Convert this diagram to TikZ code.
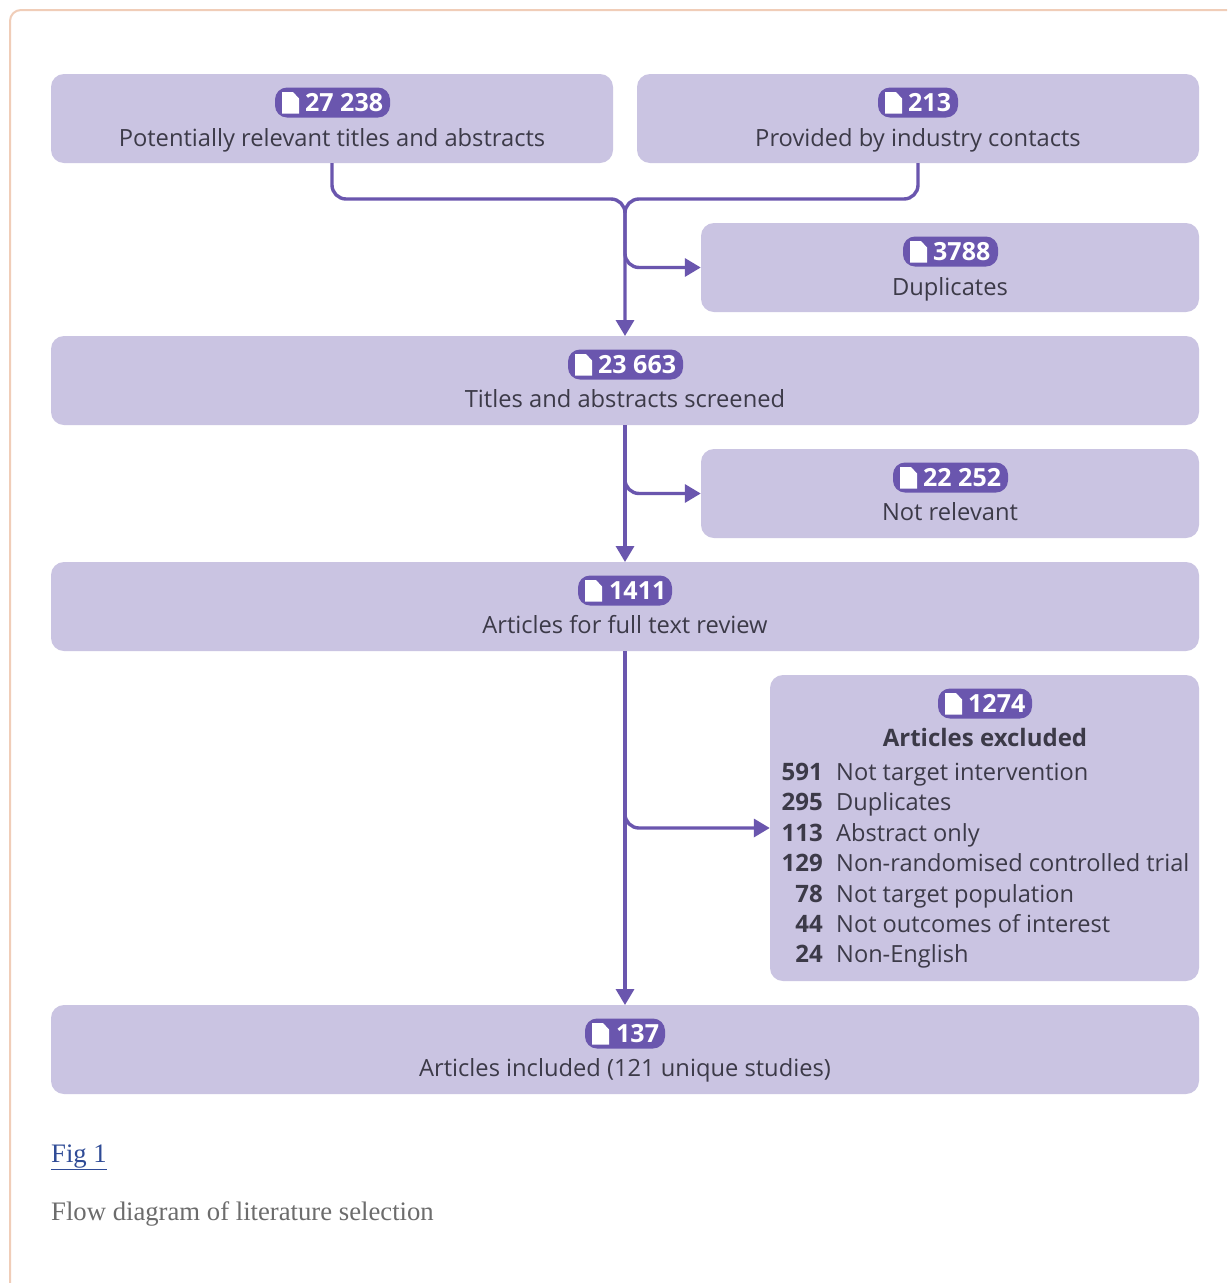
\documentclass[tikz,border=0pt]{standalone}
\usepackage{fontspec}
\setmainfont{Open Sans}
\newfontfamily\capfont{Liberation Serif}
\usetikzlibrary{arrows.meta}
\definecolor{boxfill}{HTML}{CAC4E2}
\definecolor{flowpurple}{HTML}{6A56AE}
\definecolor{inktext}{HTML}{3C3A48}
\definecolor{framecol}{HTML}{F0CDB8}
\definecolor{linkblue}{HTML}{2F4B96}
\definecolor{capgrey}{HTML}{6C6C6C}
\tikzset{
  x=1pt,y=-1pt,
  flowbox/.style={fill=boxfill,rounded corners=13pt,inner sep=0pt},
  pillbg/.style={fill=flowpurple,rounded corners=12pt,inner sep=0pt,minimum height=30pt},
  pillnum/.style={text=white,anchor=base west,inner sep=0pt,font=\fontsize{25}{29}\selectfont\bfseries},
  body/.style={text=inktext,anchor=base,inner sep=0pt,font=\fontsize{23.7}{28}\selectfont},
  rowlab/.style={text=inktext,anchor=base west,inner sep=0pt,font=\fontsize{23.6}{28}\selectfont},
  rownum/.style={text=inktext,anchor=base east,inner sep=0pt,font=\fontsize{24}{28}\selectfont\bfseries},
  flow/.style={draw=flowpurple,line width=3.4pt,rounded corners=14pt},
  flowtip/.style={-{Triangle[length=16pt,width=18pt]}},
}
% name, x0, y0, x1, y1
\newcommand\flowrect[5]{\node[flowbox,minimum width={(#4-#2)*1pt},minimum height={(#5-#3)*1pt}] (#1) at ({(#2+#4)/2},{(#3+#5)/2}) {};}
% name, x0, ytop, x1, number text x, number
\newcommand\flowpill[6]{%
  \node[pillbg,minimum width={(#4-#2)*1pt}] (#1) at ({(#2+#4)/2},{#3+14.5}) {};
  \fill[white] ({#2+7},{#3+4}) -- ({#2+18},{#3+4}) -- ({#2+24},{#3+10.5}) -- ({#2+24},{#3+25.5}) -- ({#2+7},{#3+25.5}) -- cycle;
  \node[pillnum] (#1n) at (#5,{#3+23.5}) {#6};}
\begin{document}
\begin{tikzpicture}
\useasboundingbox (0,0) rectangle (1227,1283);
\fill[white] (0,0) rectangle (1227,1283);
\draw[framecol,line width=2pt,rounded corners=11pt] (10,1283) -- (10,10) -- (1227,10);

\flowrect{tl}{51}{74}{613}{163}
\flowrect{tr}{637}{74}{1199}{163}
\flowrect{dup}{701}{223}{1199}{312}
\flowrect{scr}{51}{336}{1199}{425}
\flowrect{nrel}{701}{449}{1199}{538}
\flowrect{full}{51}{562}{1199}{651}
\flowrect{excl}{770}{675}{1199}{981}
\flowrect{incl}{51}{1005}{1199}{1094}

\coordinate (jt) at (625,199);
\coordinate (jd) at (625,242);
\coordinate (jn) at (625,467);
\coordinate (je) at (625,802);
\coordinate (scrtop) at (625,336);
\coordinate (scrbot) at (625,425);
\coordinate (fulltop) at (625,562);
\coordinate (fullbot) at (625,651);
\coordinate (incltop) at (625,1005);

\draw[flow,flowtip] (tl.south) |- (jt) -- (scrtop);
\draw[flow] (tr.south) |- (jt) -- (jd);
\draw[flow,flowtip] (jd) |- (dup.west);
\draw[flow,flowtip] (scrbot) -- (fulltop);
\draw[flow,flowtip] (jn) |- (nrel.west);
\draw[flow,flowtip] (fullbot) -- (incltop);
\draw[flow,flowtip] (je) |- (excl.west);

\flowpill{ptl}{275}{88}{390}{305}{27 238}
\flowpill{ptr}{878}{88}{958}{908}{213}
\flowpill{pdup}{903}{237}{998}{933}{3788}
\flowpill{pscr}{568}{350}{683}{598}{23 663}
\flowpill{pnrel}{893}{463}{1008}{923}{22 252}
\flowpill{pfull}{578}{576}{672}{609}{1411}
\flowpill{pexcl}{938}{689}{1032}{968}{1274}
\flowpill{pincl}{585}{1019}{665}{616}{137}

\node[body] (ltl) at (332,146) {Potentially relevant titles and abstracts};
\node[body] (ltr) at (918,146) {Provided by industry contacts};
\node[body] (ldup) at (950,295) {Duplicates};
\node[body] (lscr) at (625,407) {Titles and abstracts screened};
\node[body] (lnrel) at (950,520) {Not relevant};
\node[body] (lfull) at (625,633) {Articles for full text review};
\node[body] (lincl) at (625,1076) {Articles included (121 unique studies)};
\node[body,font=\fontsize{24}{28}\selectfont\bfseries] (lexcl) at (985,746) {Articles excluded};

\node[rownum] (n1) at (823,780) {591}; \node[rowlab] (r1) at (836,780) {Not target intervention};
\node[rownum] (n2) at (823,810) {295}; \node[rowlab] (r2) at (836,810) {Duplicates};
\node[rownum] (n3) at (823,841) {113}; \node[rowlab] (r3) at (836,841) {Abstract only};
\node[rownum] (n4) at (823,871) {129}; \node[rowlab] (r4) at (836,871) {Non-randomised controlled trial};
\node[rownum] (n5) at (823,902) {78};  \node[rowlab] (r5) at (836,902) {Not target population};
\node[rownum] (n6) at (823,932) {44};  \node[rowlab] (r6) at (836,932) {Not outcomes of interest};
\node[rownum] (n7) at (823,962) {24};  \node[rowlab] (r7) at (836,962) {Non-English};

\node[anchor=base west,inner sep=0pt,text=linkblue,font=\capfont\fontsize{26.7}{32}\selectfont] (figl) at (51,1162) {\underline{Fig 1}};
\node[anchor=base west,inner sep=0pt,text=capgrey,font=\capfont\fontsize{26.7}{32}\selectfont] (capt) at (51,1220) {Flow diagram of literature selection};
\end{tikzpicture}
\end{document}
